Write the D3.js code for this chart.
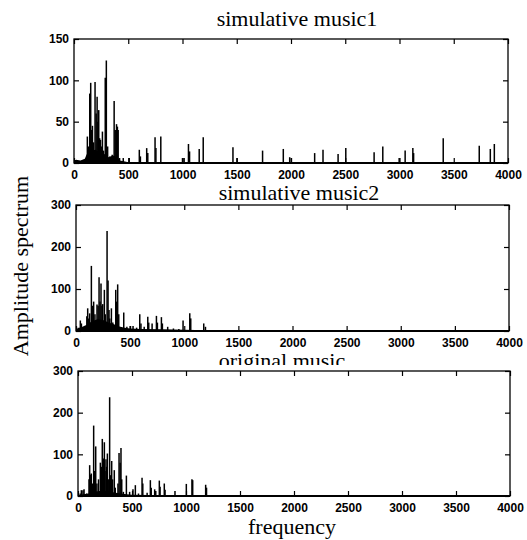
<!DOCTYPE html>
<html><head><meta charset="utf-8">
<script src="https://cdn.jsdelivr.net/npm/d3@7"></script>
<style>body{margin:0;background:#fff}svg{display:block}</style>
</head><body>
<svg id="c" width="527" height="540"></svg>
<script>
// ---------- data ----------
const xTicks = [0, 500, 1000, 1500, 2000, 2500, 3000, 3500, 4000];
const yTicksTop = [0, 50, 100, 150];
const yTicksLower = [0, 100, 200, 300];
const panelTitles = ["simulative music1", "simulative music2", "original music"];
const xLabel = "frequency";
const yLabel = "Amplitude spectrum";

// peaks: [frequency, amplitude]
const peaksMusic1 = [[123,32],[132,20],[145,84],[154,97],[162,40],[170,45],[180,25],[194,98],[204,60],[213,80],[220,50],[228,64],[236,30],[244,28],[254,20],[262,38],[272,15],[288,103],[298,124],[310,20],[330,8],[352,10],[370,75],[380,40],[392,47],[400,44],[407,40],[420,6],[454,6],[509,6],[602,16],[612,8],[670,18],[680,12],[747,31],[755,18],[800,32],[1000,6],[1015,6],[1055,23],[1065,14],[1154,17],[1191,31],[1465,19],[1502,6],[1738,15],[1929,17],[1988,7],[2003,6],[2218,12],[2295,16],[2434,11],[2505,18],[2766,13],[2846,20],[2997,6],[3052,15],[3123,18],[3130,12],[3403,30],[3735,21],[3837,17],[3874,23]];
const floorMusic1 = [[0,3],[20,4],[60,3],[100,5],[115,10],[130,13],[160,15],[200,16],[240,12],[280,11],[320,7],[360,9],[400,7],[420,3],[460,2],[500,1],[4000,1]];

const peaksMusic2 = [[20,8],[40,25],[50,18],[80,12],[100,35],[108,54],[118,30],[126,42],[142,155],[150,60],[163,70],[175,40],[194,63],[204,60],[213,128],[222,70],[231,113],[240,60],[247,64],[262,98],[270,40],[287,238],[296,120],[305,50],[312,30],[327,54],[340,20],[367,98],[376,70],[385,111],[395,40],[441,44],[470,10],[500,12],[527,12],[560,8],[589,40],[600,18],[630,10],[663,34],[672,20],[703,18],[743,36],[752,20],[789,33],[798,18],[847,10],[900,6],[950,5],[989,25],[1051,42],[1060,30],[1180,18],[1196,10]];
const floorMusic2 = [[0,3],[30,8],[60,10],[100,15],[150,24],[200,28],[250,26],[300,20],[350,16],[400,11],[450,8],[500,6],[600,5],[800,4],[1000,3],[1200,2],[1250,1],[4000,1]];

const peaksOriginal = [[20,6],[31,14],[46,14],[56,16],[80,6],[102,40],[108,74],[117,51],[123,54],[135,30],[145,169],[152,60],[164,119],[175,30],[190,40],[207,80],[216,70],[225,137],[235,90],[244,129],[250,60],[259,88],[265,70],[272,102],[280,40],[293,237],[303,50],[312,84],[320,40],[336,62],[345,20],[370,30],[380,103],[390,80],[398,115],[405,40],[420,10],[448,49],[478,10],[509,16],[531,26],[560,6],[593,44],[600,30],[640,8],[670,38],[678,20],[710,16],[720,12],[753,37],[760,22],[799,30],[806,15],[898,12],[1003,29],[1055,40],[1062,38],[1182,27],[1190,20]];
const floorOriginal = [[0,2],[50,4],[100,6],[150,10],[200,12],[250,12],[300,10],[350,8],[400,6],[450,4],[500,3],[800,2],[1200,1],[4000,1]];

// ---------- layout ----------
const panels = [
  {left:74, right:508, top:39,  bottom:163, ymax:150, yTicks:yTicksTop,   peaks:peaksMusic1,  floor:floorMusic1,  title:panelTitles[0], tx:297, ty:26,  xPad:7, bgTop:39},
  {left:76, right:509, top:205, bottom:331, ymax:300, yTicks:yTicksLower, peaks:peaksMusic2,  floor:floorMusic2,  title:panelTitles[1], tx:299, ty:200, xPad:7, bgTop:205},
  {left:78, right:510, top:371, bottom:496, ymax:300, yTicks:yTicksLower, peaks:peaksOriginal,floor:floorOriginal,title:panelTitles[2], tx:282, ty:368, xPad:7, bgTop:365}
];

const svg = d3.select("#c");
const serif = "'Liberation Serif','Times New Roman',serif";
const sans = "'Liberation Sans',Arial,sans-serif";

panels.forEach(p => {
  svg.append("text").attr("x", p.tx).attr("y", p.ty)
    .attr("text-anchor","middle").attr("font-family", serif)
    .attr("font-size", 22).attr("fill","#000").text(p.title);
});

panels.forEach(p => {
  const x = d3.scaleLinear().domain([0, 4000]).range([p.left, p.right]);
  const y = d3.scaleLinear().domain([0, p.ymax]).range([p.bottom, p.top]);
  const g = svg.append("g");

  // white axes background (covers the lower part of a title, as in the original)
  g.append("rect").attr("x", p.left).attr("y", p.bgTop)
    .attr("width", p.right - p.left).attr("height", p.bottom - p.bgTop)
    .attr("fill", "#fff");

  g.append("path").datum(p.floor)
    .attr("d", d3.area().x(d => x(d[0])).y0(y(0)).y1(d => y(d[1])))
    .attr("fill", "#000");

  g.selectAll("line.pk").data(p.peaks).join("line").attr("class","pk")
    .attr("x1", d => x(d[0])).attr("x2", d => x(d[0]))
    .attr("y1", y(0)).attr("y2", d => y(d[1]))
    .attr("stroke", "#000").attr("stroke-width", 1.5);

  const styleAxis = sel => {
    sel.select(".domain").remove();
    sel.selectAll(".tick line").attr("stroke","#000").attr("stroke-width",1.2);
    sel.selectAll(".tick text").attr("font-family", sans).attr("font-size", 12)
      .attr("font-weight","bold").attr("fill","#000");
  };
  g.append("g").attr("transform", `translate(0,${p.bottom})`)
    .call(d3.axisBottom(x).tickValues(xTicks).tickSizeInner(-5).tickSizeOuter(0).tickPadding(p.xPad).tickFormat(d3.format("d")))
    .call(styleAxis);
  g.append("g").attr("transform", `translate(0,${p.top})`)
    .call(d3.axisTop(x).tickValues(xTicks).tickSizeInner(-5).tickSizeOuter(0).tickFormat(""))
    .call(styleAxis);
  g.append("g").attr("transform", `translate(${p.left},0)`)
    .call(d3.axisLeft(y).tickValues(p.yTicks).tickSizeInner(-5).tickSizeOuter(0).tickPadding(5).tickFormat(d3.format("d")))
    .call(styleAxis);
  g.append("g").attr("transform", `translate(${p.right},0)`)
    .call(d3.axisRight(y).tickValues(p.yTicks).tickSizeInner(-5).tickSizeOuter(0).tickFormat(""))
    .call(styleAxis);

  g.append("rect").attr("x", p.left).attr("y", p.top)
    .attr("width", p.right - p.left).attr("height", p.bottom - p.top)
    .attr("fill","none").attr("stroke","#000").attr("stroke-width",1.3);
  g.append("line").attr("x1", p.left).attr("x2", p.right)
    .attr("y1", p.bottom).attr("y2", p.bottom)
    .attr("stroke","#000").attr("stroke-width",2.2);
});

svg.append("text").attr("x", 292).attr("y", 534).attr("text-anchor","middle")
  .attr("font-family", serif).attr("font-size", 22).attr("fill","#000").text(xLabel);
svg.append("text").attr("transform","translate(28,266) rotate(-90)").attr("text-anchor","middle")
  .attr("font-family", serif).attr("font-size", 22).attr("fill","#000").text(yLabel);
</script>
</body></html>
